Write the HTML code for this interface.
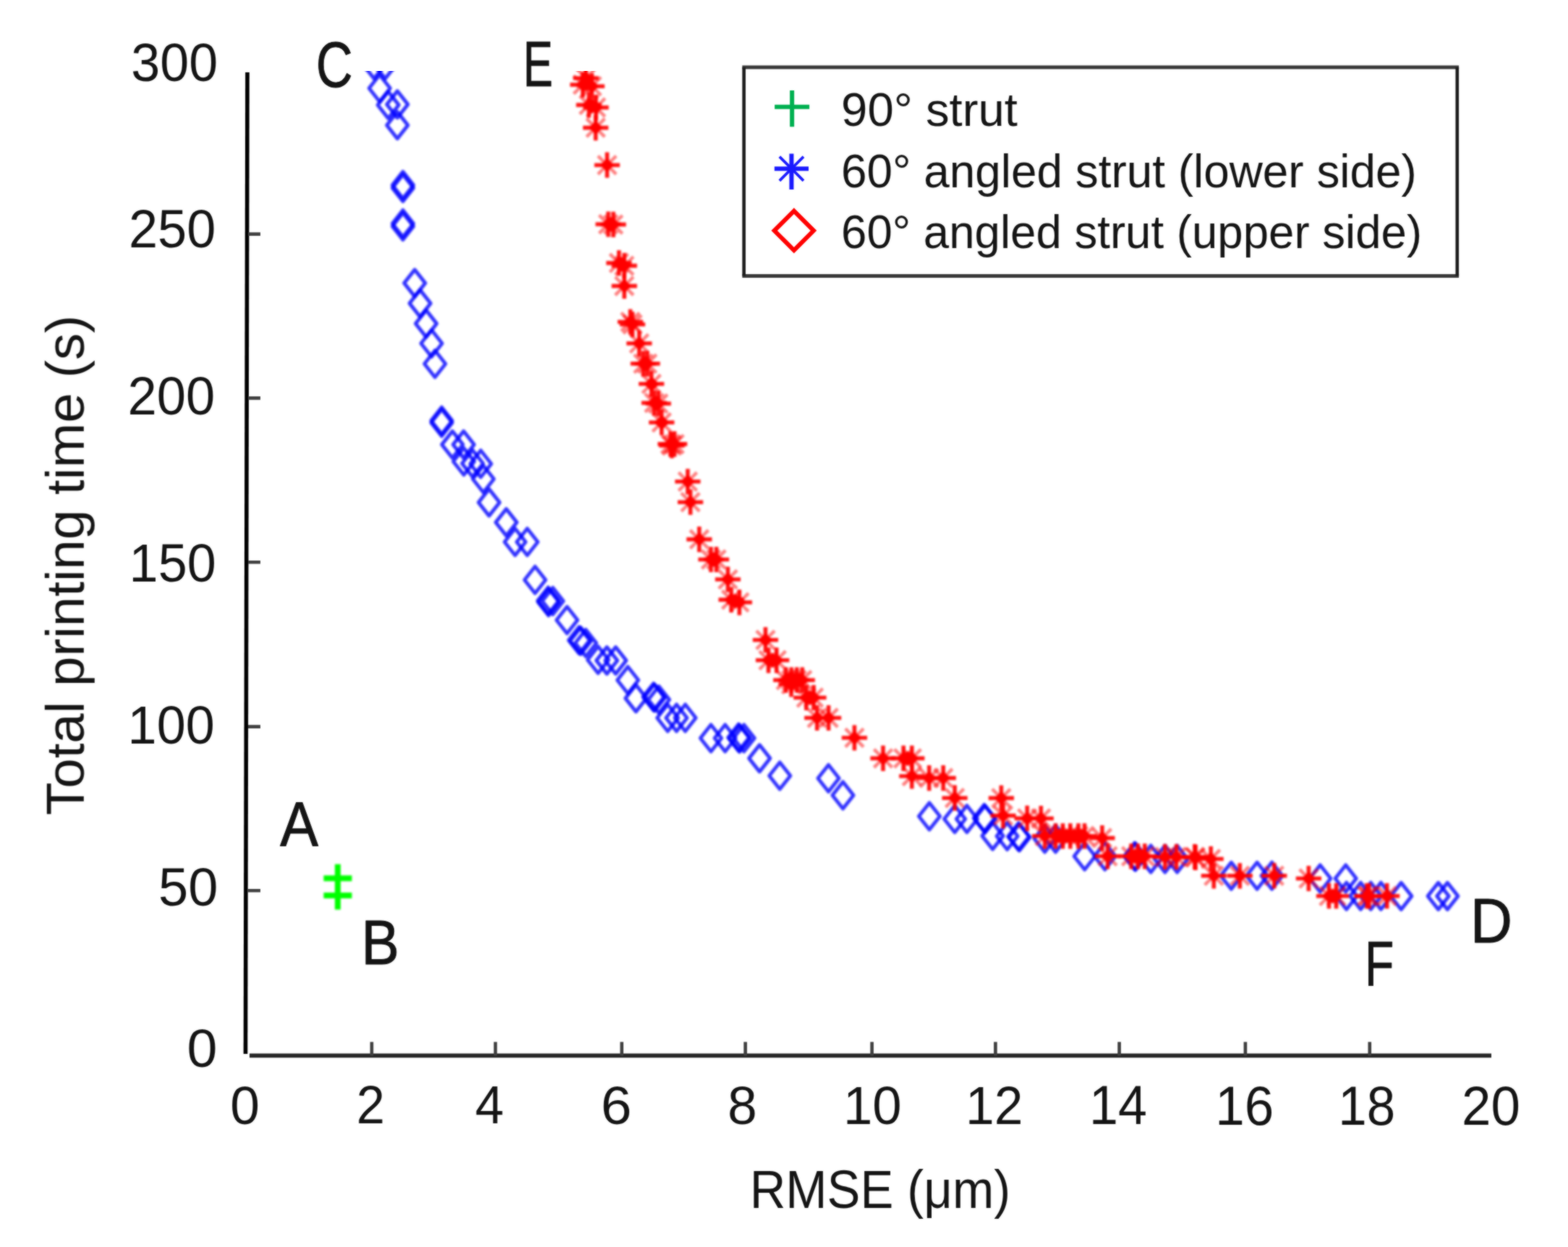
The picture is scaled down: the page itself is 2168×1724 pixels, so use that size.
<!DOCTYPE html>
<html lang="en"><head><meta charset="utf-8"><title>Total printing time vs RMSE</title>
<style>
html,body{margin:0;padding:0;background:#fff;}
body{width:2168px;height:1724px;overflow:hidden;}
svg{display:block;font-family:"Liberation Sans",sans-serif;}
</style></head><body>
<svg width="2168" height="1724" viewBox="0 0 2168 1724">
<defs>
<filter id="soft" x="-2%" y="-2%" width="104%" height="104%" color-interpolation-filters="sRGB"><feGaussianBlur stdDeviation="0.80" result="b"/><feComposite in="SourceGraphic" in2="b" operator="arithmetic" k1="0" k2="0.40" k3="0.60" k4="0"/></filter>
<filter id="softm" x="-2%" y="-2%" width="104%" height="104%" color-interpolation-filters="sRGB"><feGaussianBlur stdDeviation="1.60"/></filter>
<clipPath id="plot"><rect x="300" y="98.8" width="1800" height="1400"/></clipPath>
<path id="d" d="M0 -18.5L14.6 0L0 18.5L-14.6 0Z" fill="none" stroke="#0000ff" stroke-opacity="0.80" stroke-width="5.0" stroke-linejoin="round"/>
<g id="s" stroke="#ff0000" fill="none"><path d="M-17.6 0H17.6M0 -17.6V17.6" stroke-width="5.6" stroke-opacity="0.92"/><path d="M0 -9.5L9.5 0L0 9.5L-9.5 0Z" fill="#ff0000" stroke="none"/><path d="M-12.6 -12.6L-4.0 -4.0M4.0 4.0L12.6 12.6M-12.6 12.6L-4.0 4.0M4.0 -4.0L12.6 -12.6" stroke-width="4.6" stroke-opacity="0.50"/></g>
<path id="c" d="M0 -10.5L10.5 0L0 10.5L-10.5 0Z" fill="#ff0000"/>
</defs>
<rect width="2168" height="1724" fill="#fff"/>
<g filter="url(#soft)">
<g stroke-linecap="butt" fill="none">
<path d="M342.0 100.0L339.5 1457.0" stroke="#000" stroke-width="5.6"/>
<path d="M345.0 1459.4H2062.0" stroke="#262626" stroke-width="5.6"/>
<path d="M514.0 1459.4V1440.5M685.0 1459.4V1440.5M859.7 1459.4V1440.5M1030.6 1459.4V1440.5M1205.6 1459.4V1440.5M1376.4 1459.4V1440.5M1547.6 1459.4V1440.5M1721.9 1459.4V1440.5M1893.8 1459.4V1440.5M343.0 323.6H360.0M343.0 550.4H360.0M343.0 777.3H360.0M343.0 1004.6H360.0M343.0 1231.3H360.0" stroke="#404040" stroke-width="4.6"/>
</g>
<g fill="#141414">
<text transform="translate(181.30 112.00) scale(0.9644 1)" font-size="74.55">300</text>
<text transform="translate(177.89 341.50) scale(0.9772 1)" font-size="73.84">250</text>
<text transform="translate(176.38 573.00) scale(0.9815 1)" font-size="73.84">200</text>
<text transform="translate(178.60 804.00) scale(0.9755 1)" font-size="73.84">150</text>
<text transform="translate(176.60 1028.00) scale(0.9661 1)" font-size="74.55">100</text>
<text transform="translate(219.04 1252.00) scale(1.0035 1)" font-size="73.84">50</text>
<text transform="translate(258.48 1475.00) scale(1.0211 1)" font-size="73.84">0</text>
<text transform="translate(318.37 1553.50) scale(0.9832 1)" font-size="74.55">0</text>
<text transform="translate(492.86 1553.00) scale(0.9585 1)" font-size="73.84">2</text>
<text transform="translate(657.00 1553.00) scale(0.9516 1)" font-size="74.91">4</text>
<text transform="translate(830.66 1553.50) scale(1.0296 1)" font-size="74.55">6</text>
<text transform="translate(1005.89 1553.50) scale(0.9818 1)" font-size="74.55">8</text>
<text transform="translate(1165.96 1553.50) scale(0.9736 1)" font-size="74.55">10</text>
<text transform="translate(1334.94 1554.00) scale(0.9587 1)" font-size="74.55">12</text>
<text transform="translate(1506.01 1554.00) scale(0.9501 1)" font-size="75.64">14</text>
<text transform="translate(1680.24 1554.50) scale(0.9678 1)" font-size="75.27">16</text>
<text transform="translate(1850.28 1554.50) scale(0.9424 1)" font-size="75.27">18</text>
<text transform="translate(2020.96 1554.50) scale(0.9667 1)" font-size="75.27">20</text>
<text transform="translate(1036.63 1669.60) scale(0.9269 1)" font-size="74.18">RMSE (μm)</text>
<text transform="translate(115.80 1127.08) rotate(-90) scale(1.0122 1)" font-size="73.60">Total printing time (s)</text>
<text transform="translate(387.30 1169.60) scale(0.9080 1)" font-size="87.27" stroke="#141414" stroke-width="1.00" stroke-linejoin="round">A</text>
<text transform="translate(499.49 1333.30) scale(0.9129 1)" font-size="86.40" stroke="#141414" stroke-width="1.00" stroke-linejoin="round">B</text>
<text transform="translate(437.09 120.00) scale(0.7897 1)" font-size="88.89" stroke="#141414" stroke-width="1.00" stroke-linejoin="round">C</text>
<text transform="translate(2032.97 1302.90) scale(0.9267 1)" font-size="86.69" stroke="#141414" stroke-width="1.00" stroke-linejoin="round">D</text>
<text transform="translate(723.29 119.40) scale(0.7015 1)" font-size="88.29" stroke="#141414" stroke-width="1.00" stroke-linejoin="round">E</text>
<text transform="translate(1887.05 1362.40) scale(0.7632 1)" font-size="86.55" stroke="#141414" stroke-width="1.00" stroke-linejoin="round">F</text>
</g>
<rect x="1028.6" y="93.0" width="986.2" height="288.4" fill="#fff"/>
<path d="M1026.3 93.0H2017.1M1026.3 381.4H2017.1" fill="none" stroke="#383838" stroke-width="5.0"/>
<path d="M1028.6 93.0V381.4M2014.8 93.0V381.4" fill="none" stroke="#1c1c1c" stroke-width="4.6"/>
<g fill="#141414">
<text transform="translate(1163.10 174.30) scale(1.0167 1)" font-size="64.23">90° strut</text>
<text transform="translate(1163.01 258.70) scale(0.9856 1)" font-size="64.80">60° angled strut (lower side)</text>
<text transform="translate(1163.02 343.00) scale(0.9793 1)" font-size="64.95">60° angled strut (upper side)</text>
</g>
<path d="M1071.1 147.7H1119.1M1095.1 125.1V175.3" stroke="#00b050" stroke-width="6.0" fill="none"/>
<path d="M1070.8 233.2H1118.0M1094.4 212.4V262.0" stroke="#1a1aff" stroke-width="6.0" fill="none"/>
<path d="M1077.8 216.6L1111.0 249.8M1077.8 249.8L1111.0 216.6" stroke="#1a1aff" stroke-width="3.8" fill="none"/>
<path d="M1097.8 291.6L1125.0 318.8L1097.8 346.0L1070.6 318.8Z" stroke="#ff0000" stroke-width="6.0" fill="none"/>
</g>
<g filter="url(#softm)" clip-path="url(#plot)">
<g>
<use href="#d" x="517.2" y="90.1"/>
<use href="#d" x="532.6" y="90.1"/>
<use href="#d" x="524.9" y="122.0"/>
<use href="#d" x="536.8" y="145.1"/>
<use href="#d" x="549.4" y="144.4"/>
<use href="#d" x="549.4" y="173.1"/>
<use href="#d" x="557.1" y="255.9"/>
<use href="#d" x="557.1" y="259.9"/>
<use href="#d" x="557.1" y="309.0"/>
<use href="#d" x="557.1" y="313.0"/>
<use href="#d" x="573.4" y="391.4"/>
<use href="#d" x="580.8" y="419.4"/>
<use href="#d" x="589.2" y="447.4"/>
<use href="#d" x="596.7" y="474.8"/>
<use href="#d" x="601.4" y="503.0"/>
<use href="#d" x="610.7" y="581.5"/>
<use href="#d" x="610.7" y="584.5"/>
<use href="#d" x="625.5" y="614.6"/>
<use href="#d" x="641.0" y="614.6"/>
<use href="#d" x="641.3" y="638.0"/>
<use href="#d" x="653.4" y="640.8"/>
<use href="#d" x="664.7" y="641.2"/>
<use href="#d" x="668.3" y="662.3"/>
<use href="#d" x="676.2" y="694.6"/>
<use href="#d" x="700.0" y="722.1"/>
<use href="#d" x="712.2" y="749.2"/>
<use href="#d" x="729.0" y="749.2"/>
<use href="#d" x="739.8" y="801.7"/>
<use href="#d" x="757.9" y="830.5"/>
<use href="#d" x="758.5" y="832.5"/>
<use href="#d" x="764.4" y="831.0"/>
<use href="#d" x="784.0" y="857.3"/>
<use href="#d" x="800.8" y="885.1"/>
<use href="#d" x="803.0" y="886.0"/>
<use href="#d" x="810.0" y="889.0"/>
<use href="#d" x="827.0" y="912.2"/>
<use href="#d" x="839.1" y="913.1"/>
<use href="#d" x="851.3" y="913.1"/>
<use href="#d" x="868.1" y="940.2"/>
<use href="#d" x="879.3" y="965.4"/>
<use href="#d" x="903.5" y="963.5"/>
<use href="#d" x="905.0" y="964.5"/>
<use href="#d" x="911.0" y="967.3"/>
<use href="#d" x="923.2" y="992.5"/>
<use href="#d" x="935.4" y="992.5"/>
<use href="#d" x="947.5" y="992.5"/>
<use href="#d" x="983.0" y="1020.5"/>
<use href="#d" x="1002.6" y="1020.5"/>
<use href="#d" x="1021.3" y="1019.6"/>
<use href="#d" x="1022.5" y="1021.0"/>
<use href="#d" x="1028.7" y="1020.5"/>
<use href="#d" x="1050.2" y="1048.4"/>
<use href="#d" x="1078.2" y="1072.5"/>
<use href="#d" x="1145.5" y="1076.0"/>
<use href="#d" x="1165.5" y="1099.5"/>
<use href="#d" x="1285.0" y="1128.5"/>
<use href="#d" x="1320.1" y="1132.2"/>
<use href="#d" x="1336.9" y="1132.2"/>
<use href="#d" x="1360.8" y="1131.0"/>
<use href="#d" x="1362.0" y="1132.4"/>
<use href="#d" x="1372.5" y="1155.6"/>
<use href="#d" x="1392.6" y="1156.0"/>
<use href="#d" x="1408.2" y="1156.5"/>
<use href="#d" x="1409.5" y="1157.5"/>
<use href="#d" x="1444.6" y="1159.5"/>
<use href="#d" x="1459.5" y="1159.5"/>
<use href="#d" x="1499.7" y="1183.8"/>
<use href="#d" x="1527.7" y="1183.8"/>
<use href="#d" x="1568.8" y="1183.8"/>
<use href="#d" x="1570.0" y="1184.5"/>
<use href="#d" x="1591.2" y="1187.5"/>
<use href="#d" x="1610.8" y="1187.5"/>
<use href="#d" x="1627.6" y="1187.5"/>
<use href="#d" x="1702.4" y="1210.8"/>
<use href="#d" x="1738.1" y="1210.8"/>
<use href="#d" x="1758.6" y="1210.7"/>
<use href="#d" x="1825.3" y="1214.5"/>
<use href="#d" x="1860.7" y="1214.5"/>
<use href="#d" x="1861.7" y="1238.7"/>
<use href="#d" x="1881.3" y="1238.7"/>
<use href="#d" x="1895.3" y="1238.7"/>
<use href="#d" x="1909.3" y="1238.7"/>
<use href="#d" x="1937.3" y="1238.9"/>
<use href="#d" x="1988.7" y="1238.9"/>
<use href="#d" x="2001.3" y="1238.9"/>
</g>
<g>
<use href="#s" x="810.0" y="108.0"/>
<use href="#s" x="805.8" y="117.1"/>
<use href="#s" x="818.4" y="119.2"/>
<use href="#s" x="814.2" y="145.1"/>
<use href="#s" x="824.0" y="148.6"/>
<use href="#s" x="823.6" y="176.6"/>
<use href="#s" x="839.4" y="228.2"/>
<use href="#s" x="841.0" y="310.0"/>
<use href="#s" x="848.0" y="310.4"/>
<use href="#s" x="855.8" y="363.6"/>
<use href="#s" x="863.2" y="367.4"/>
<use href="#s" x="863.2" y="395.4"/>
<use href="#s" x="871.5" y="445.0"/>
<use href="#s" x="874.5" y="448.5"/>
<use href="#s" x="883.8" y="474.8"/>
<use href="#s" x="889.4" y="502.8"/>
<use href="#s" x="895.0" y="502.8"/>
<use href="#s" x="900.7" y="530.8"/>
<use href="#s" x="904.5" y="557.0"/>
<use href="#s" x="910.2" y="558.0"/>
<use href="#s" x="914.8" y="584.0"/>
<use href="#s" x="927.0" y="613.9"/>
<use href="#s" x="932.6" y="613.9"/>
<use href="#s" x="929.0" y="616.0"/>
<use href="#s" x="950.9" y="665.8"/>
<use href="#s" x="954.6" y="694.2"/>
<use href="#s" x="966.8" y="745.6"/>
<use href="#s" x="983.0" y="773.5"/>
<use href="#s" x="990.5" y="773.5"/>
<use href="#s" x="1006.4" y="801.0"/>
<use href="#s" x="1011.1" y="829.1"/>
<use href="#s" x="1022.3" y="832.8"/>
<use href="#s" x="1058.4" y="884.7"/>
<use href="#s" x="1062.5" y="912.8"/>
<use href="#s" x="1073.7" y="912.8"/>
<use href="#s" x="1086.7" y="940.2"/>
<use href="#s" x="1094.2" y="940.2"/>
<use href="#s" x="1101.7" y="940.2"/>
<use href="#s" x="1109.2" y="940.2"/>
<use href="#s" x="1094.0" y="946.0"/>
<use href="#s" x="1114.8" y="964.5"/>
<use href="#s" x="1125.0" y="964.5"/>
<use href="#s" x="1129.7" y="992.5"/>
<use href="#s" x="1145.6" y="992.5"/>
<use href="#s" x="1181.4" y="1020.0"/>
<use href="#s" x="1221.0" y="1048.4"/>
<use href="#s" x="1249.2" y="1048.4"/>
<use href="#s" x="1260.8" y="1048.4"/>
<use href="#s" x="1260.8" y="1073.0"/>
<use href="#s" x="1284.7" y="1075.6"/>
<use href="#s" x="1304.2" y="1075.6"/>
<use href="#s" x="1320.1" y="1103.2"/>
<use href="#s" x="1384.4" y="1103.4"/>
<use href="#s" x="1387.0" y="1127.6"/>
<use href="#s" x="1420.2" y="1131.4"/>
<use href="#s" x="1439.3" y="1131.5"/>
<use href="#s" x="1444.6" y="1155.8"/>
<use href="#s" x="1459.5" y="1155.8"/>
<use href="#s" x="1469.5" y="1155.8"/>
<use href="#s" x="1479.8" y="1155.8"/>
<use href="#s" x="1491.0" y="1155.8"/>
<use href="#s" x="1499.5" y="1155.8"/>
<use href="#s" x="1523.9" y="1158.6"/>
<use href="#s" x="1531.4" y="1183.8"/>
<use href="#s" x="1564.1" y="1183.8"/>
<use href="#s" x="1573.4" y="1183.8"/>
<use href="#s" x="1582.8" y="1183.8"/>
<use href="#s" x="1610.8" y="1184.7"/>
<use href="#s" x="1626.6" y="1184.7"/>
<use href="#s" x="1651.9" y="1184.7"/>
<use href="#s" x="1653.0" y="1185.5"/>
<use href="#s" x="1674.2" y="1187.5"/>
<use href="#s" x="1678.3" y="1210.8"/>
<use href="#s" x="1714.3" y="1210.8"/>
<use href="#s" x="1761.8" y="1210.7"/>
<use href="#s" x="1809.4" y="1214.5"/>
<use href="#s" x="1837.5" y="1238.7"/>
<use href="#s" x="1847.5" y="1238.7"/>
<use href="#s" x="1890.0" y="1238.7"/>
<use href="#s" x="1893.0" y="1238.7"/>
<use href="#s" x="1917.7" y="1238.7"/>
<use href="#c" x="1464.5" y="1155.8"/>
<use href="#c" x="1474.6" y="1155.8"/>
<use href="#c" x="1485.4" y="1155.8"/>
<use href="#c" x="1495.2" y="1155.8"/>
<use href="#c" x="1568.8" y="1183.8"/>
<use href="#c" x="1578.1" y="1183.8"/>
<use href="#c" x="1842.5" y="1238.7"/>
<use href="#c" x="844.5" y="310.2"/>
<use href="#c" x="811.0" y="113.0"/>
<use href="#c" x="818.5" y="146.5"/>
<use href="#c" x="859.5" y="365.5"/>
<use href="#c" x="873.0" y="446.7"/>
<use href="#c" x="892.2" y="502.8"/>
<use href="#c" x="901.0" y="531.0"/>
<use href="#c" x="907.3" y="557.5"/>
<use href="#c" x="915.0" y="584.0"/>
<use href="#c" x="929.8" y="614.5"/>
<use href="#c" x="986.8" y="773.5"/>
<use href="#c" x="1016.5" y="831.0"/>
<use href="#c" x="1068.0" y="912.8"/>
<use href="#c" x="1090.5" y="940.2"/>
<use href="#c" x="1098.0" y="940.8"/>
<use href="#c" x="1105.5" y="940.2"/>
<use href="#c" x="1119.8" y="964.5"/>
<use href="#c" x="1255.0" y="1048.4"/>
<use href="#c" x="1891.5" y="1238.7"/>
<use href="#c" x="1652.4" y="1185.0"/>
</g>
<path d="M447.5 1214.2H486.5M467.0 1194.7V1233.7M447.5 1238.0H486.5M467.0 1218.5V1257.5" stroke="#00ff00" stroke-width="8.0" fill="none"/>
</g>
</svg>
</body></html>
